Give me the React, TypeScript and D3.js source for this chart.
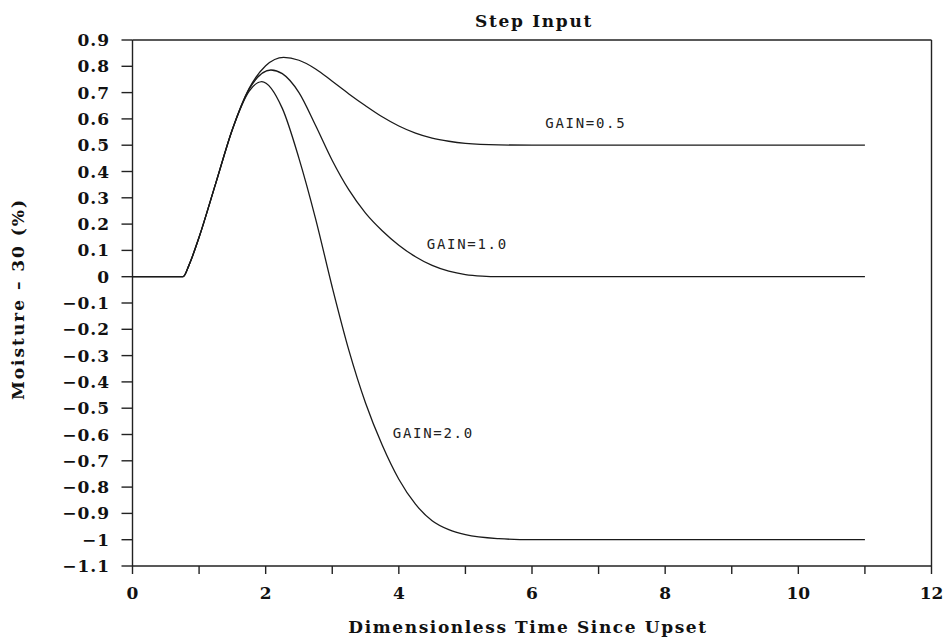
import React from "react";
import * as d3 from "d3";

const title = "Step Input";
const xLabel = "Dimensionless Time Since Upset";
const yLabel = "Moisture \u2013 30 (%)";

const xTicks = [0, 1, 2, 3, 4, 5, 6, 7, 8, 9, 10, 11, 12];
const xTickLabels = [0, 2, 4, 6, 8, 10, 12];
const yTicks = [0.9, 0.8, 0.7, 0.6, 0.5, 0.4, 0.3, 0.2, 0.1, 0, -0.1, -0.2, -0.3, -0.4, -0.5, -0.6, -0.7, -0.8, -0.9, -1, -1.1];

const seriesNames = ["GAIN=0.5", "GAIN=1.0", "GAIN=2.0"];

const gain05: [number, number][] = [
  [0, 0], [0.76, 0], [0.85, 0.045], [1.0, 0.15], [1.25, 0.355], [1.5, 0.56], [1.75, 0.715],
  [2.0, 0.802], [2.27, 0.834], [2.5, 0.823], [2.75, 0.79], [3.0, 0.743], [3.25, 0.695], [3.5, 0.65],
  [3.75, 0.608], [4.0, 0.573], [4.25, 0.546], [4.5, 0.527], [4.75, 0.515], [5.0, 0.507],
  [5.5, 0.501], [6.0, 0.5], [8.0, 0.5], [11.0, 0.5],
];

const gain10: [number, number][] = [
  [0, 0], [0.76, 0], [0.85, 0.045], [1.0, 0.15], [1.25, 0.355], [1.5, 0.56], [1.75, 0.712],
  [2.08, 0.786], [2.25, 0.772], [2.5, 0.70], [2.75, 0.575], [3.0, 0.442], [3.25, 0.33],
  [3.5, 0.242], [3.75, 0.175], [4.0, 0.12], [4.25, 0.076], [4.5, 0.043], [4.75, 0.021],
  [5.0, 0.008], [5.25, 0.002], [5.5, 0], [8.0, 0], [11.0, 0],
];

const gain20: [number, number][] = [
  [0, 0], [0.76, 0], [0.85, 0.045], [1.0, 0.15], [1.25, 0.355], [1.5, 0.56], [1.75, 0.705],
  [1.94, 0.742], [2.25, 0.64], [2.5, 0.45], [2.75, 0.22], [3.0, -0.04],
  [3.25, -0.28], [3.5, -0.48], [3.75, -0.64], [4.0, -0.77], [4.25, -0.865], [4.5, -0.928],
  [4.75, -0.962], [5.0, -0.981], [5.5, -0.996], [6.0, -1.0], [8.0, -1.0], [11.0, -1.0],
];

const series = [gain05, gain10, gain20];
const labelPos: [number, number][] = [
  [6.2, 0.565],
  [4.42, 0.105],
  [3.91, -0.614],
];

const W = 945;
const H = 638;
const serif = "'DejaVu Serif', serif";
const mono = "'DejaVu Sans Mono', monospace";

export default function App() {
  const x = d3.scaleLinear().domain([0, 12]).range([132.5, 931.5]);
  const y = d3.scaleLinear().domain([-1.1, 0.9]).range([566, 40]);
  const line = d3
    .line<[number, number]>()
    .x((d) => x(d[0]))
    .y((d) => y(d[1]))
    .curve(d3.curveMonotoneX);

  const fmtY = (v: number) => {
    const s = d3.format("")(Math.round(v * 10) / 10);
    return s.replace("-", "\u2212");
  };

  return (
    <svg
      width={W}
      height={H}
      style={{ position: "absolute", left: 0, top: 0, background: "#fff" }}
    >
      <rect x={0} y={0} width={W} height={H} fill="#fff" />
      {/* frame */}
      <g stroke="#222" strokeWidth={1.4} fill="none">
        <line x1={x(0)} x2={x(0)} y1={y(0.9)} y2={y(-1.1)} />
        <line x1={x(0)} x2={x(12)} y1={y(-1.1)} y2={y(-1.1)} />
        <line x1={x(0)} x2={x(12)} y1={y(0.9)} y2={y(0.9)} />
        <line x1={x(12)} x2={x(12)} y1={y(0.9)} y2={y(-1.1)} />
        {yTicks.map((t) => (
          <line key={"yt" + t} x1={x(0) - 11} x2={x(0)} y1={y(t)} y2={y(t)} />
        ))}
        {xTicks.map((t) => (
          <line key={"xt" + t} x1={x(t)} x2={x(t)} y1={y(-1.1)} y2={y(-1.1) + 8} />
        ))}
      </g>
      {/* y tick labels */}
      <g fontFamily={serif} fontWeight="bold" fontSize={17} fill="#111" textAnchor="end" letterSpacing={1}>
        {yTicks.map((t) => (
          <text key={"yl" + t} x={110} y={y(t) + 6}>
            {fmtY(t)}
          </text>
        ))}
      </g>
      <g fontFamily={serif} fontWeight="bold" fontSize={17} fill="#111" textAnchor="middle">
        {xTickLabels.map((t) => (
          <text key={"xl" + t} x={x(t)} y={599}>
            {t}
          </text>
        ))}
      </g>
      {/* curves */}
      <g fill="none" stroke="#1a1a1a" strokeWidth={1.3}>
        {series.map((s, i) => (
          <path key={"s" + i} d={line(s) || ""} />
        ))}
      </g>
      {/* curve labels */}
      <g fontFamily={mono} fontSize={14} fill="#222">
        {seriesNames.map((n, i) => (
          <text key={n} x={x(labelPos[i][0])} y={y(labelPos[i][1])} letterSpacing={1.7}>
            {n}
          </text>
        ))}
      </g>
      {/* title and axis labels */}
      <text x={534} y={27} textAnchor="middle" fontFamily={serif} fontWeight="bold" fontSize={17} letterSpacing={1.7} fill="#111">
        {title}
      </text>
      <text x={528} y={633} textAnchor="middle" fontFamily={serif} fontWeight="bold" fontSize={17} letterSpacing={1.6} fill="#111">
        {xLabel}
      </text>
      <text
        transform="translate(24,300) rotate(-90)"
        textAnchor="middle"
        fontFamily={serif}
        fontWeight="bold"
        fontSize={17}
        fill="#111"
        textLength={200}
        lengthAdjust="spacing"
      >
        {yLabel}
      </text>
    </svg>
  );
}
